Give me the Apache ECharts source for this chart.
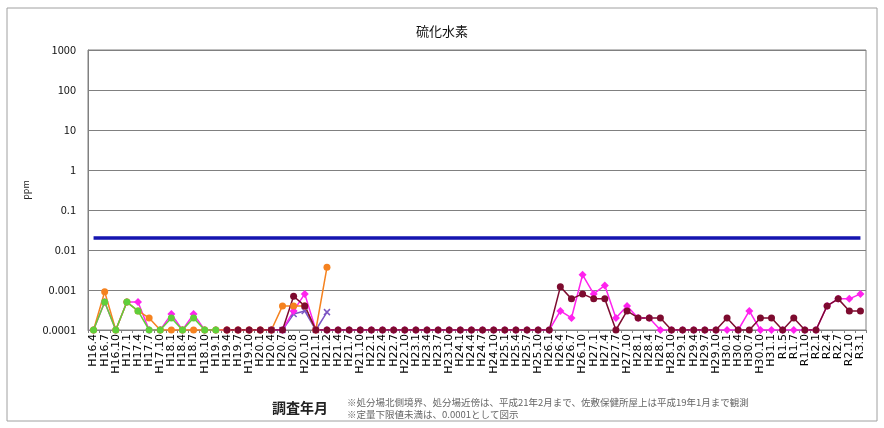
<!DOCTYPE html>
<html><head><meta charset="utf-8">
<script src="https://cdn.jsdelivr.net/npm/echarts@6/dist/echarts.min.js"></script>
<style>html,body{margin:0;padding:0;background:#fff}#c{width:884px;height:428px}</style>
</head><body><div id="c"></div>
<script>
const categories = ['H16.4','H16.7','H16.10','H17.1','H17.4','H17.7','H17.10','H18.1','H18.4','H18.7',
'H18.10','H19.1','H19.4','H19.7','H19.10','H20.1','H20.4','H20.7','H20.8','H20.10',
'H21.1','H21.2','H21.4','H21.7','H21.10','H22.1','H22.4','H22.7','H22.10','H23.1',
'H23.4','H23.7','H23.10','H24.1','H24.4','H24.7','H24.10','H25.1','H25.4','H25.7',
'H25.10','H26.1','H26.4','H26.7','H26.10','H27.1','H27.4','H27.7','H27.10','H28.1',
'H28.4','H28.7','H28.10','H29.1','H29.4','H29.7','H29.10','H30.1','H30.4','H30.7',
'H30.10','H31.1','R1.5','R1.7','R1.10','R2.1','R2.4','R2.7','R2.10','R3.1'];

const yTickLabels = ['0.0001','0.001','0.01','0.1','1','10','100','1000'];

const n = null;
// 佐敷保健所屋上 (green)
const saShiki = [0.0001,0.0005,0.0001,0.0005,0.0003,0.0001,0.0001,0.0002,0.0001,0.0002,0.0001,0.0001];
// 処分場北側境界 (orange)
const northBorder = [0.0001,0.0009,0.0001,0.0005,0.0003,0.0002,0.0001,0.0001,0.0001,0.0001,
0.0001,0.0001,0.0001,0.0001,0.0001,0.0001,0.0001,0.0004,0.0004,0.0004,0.0001,0.0037];
// 処分場近傍 (purple)
const nearSite = [n,n,n,n,n,n,n,n,n,n,
n,n,n,n,n,n,0.0001,0.0001,0.00025,0.0003,0.0001,0.00028];
// magenta station
const magentaSt = [0.0001,0.0005,0.0001,0.0005,0.0005,0.0001,0.0001,0.00025,0.0001,0.00025,
0.0001,0.0001,0.0001,0.0001,0.0001,0.0001,0.0001,0.0001,0.0003,0.0008,
0.0001,0.0001,0.0001,0.0001,0.0001,0.0001,0.0001,0.0001,0.0001,0.0001,
0.0001,0.0001,0.0001,0.0001,0.0001,0.0001,0.0001,0.0001,0.0001,0.0001,
0.0001,0.0001,0.0003,0.0002,0.0024,0.0008,0.0013,0.0002,0.0004,0.0002,
0.0002,0.0001,0.0001,0.0001,0.0001,0.0001,0.0001,0.0001,0.0001,0.0003,
0.0001,0.0001,0.0001,0.0001,0.0001,0.0001,0.0004,0.0006,0.0006,0.0008];
// dark red station
const darkRedSt = [n,n,n,n,n,n,n,n,n,n,
n,n,0.0001,0.0001,0.0001,0.0001,0.0001,0.0001,0.0007,0.0004,
0.0001,0.0001,0.0001,0.0001,0.0001,0.0001,0.0001,0.0001,0.0001,0.0001,
0.0001,0.0001,0.0001,0.0001,0.0001,0.0001,0.0001,0.0001,0.0001,0.0001,
0.0001,0.0001,0.0012,0.0006,0.0008,0.0006,0.0006,0.0001,0.0003,0.0002,
0.0002,0.0002,0.0001,0.0001,0.0001,0.0001,0.0001,0.0002,0.0001,0.0001,
0.0002,0.0002,0.0001,0.0002,0.0001,0.0001,0.0004,0.0006,0.0003,0.0003];
// 規制基準 line
const limitValue = 0.02;

const font = '"Noto Sans CJK JP","Noto Sans",sans-serif';
const chart = echarts.init(document.getElementById('c'));
function line(name, data, color, symbol, size, extra) {
  return Object.assign({
    name, type: 'line', data, symbol, symbolSize: size, showSymbol: true,
    connectNulls: false, animation: false,
    lineStyle: { color, width: 1.5 }, itemStyle: { color, borderWidth: 0 }
  }, extra || {});
}
chart.setOption({
  animation: false,
  grid: { left: 88, right: 18, top: 50, bottom: 98, show: true, borderColor: '#808080', borderWidth: 1 },
  title: { text: '硫化水素', left: 'center', top: 20, textStyle: { fontFamily: font, fontSize: 13, fontWeight: 'normal', color: '#111' } },
  xAxis: {
    type: 'category', data: categories, boundaryGap: true,
    axisLine: { lineStyle: { color: '#808080' } },
    axisTick: { show: true, length: 3, lineStyle: { color: '#808080' } },
    axisLabel: { interval: 0, rotate: 90, fontSize: 11, color: '#000', fontFamily: '"DejaVu Sans",sans-serif', margin: 4 }
  },
  yAxis: {
    type: 'log', logBase: 10, min: 0.0001, max: 1000,
    name: 'ppm', nameLocation: 'middle', nameGap: 58, nameRotate: 90,
    nameTextStyle: { fontSize: 9, color: '#222', fontFamily: font },
    axisLine: { show: true, lineStyle: { color: '#808080' } },
    axisTick: { show: false },
    splitLine: { lineStyle: { color: '#808080', width: 1 } },
    axisLabel: { fontSize: 11, color: '#111', fontFamily: font, margin: 12,
      formatter: v => yTickLabels[Math.round(Math.log10(v)) + 4] }
  },
  series: [
    line('基準', categories.map(() => limitValue), '#1515b0', 'none', 0, { lineStyle: { color: '#1515b0', width: 3.5 }, z: 1 }),
    line('処分場近傍', nearSite, '#7b55c4', 'path://M0,0L10,10M10,0L0,10', 6, { itemStyle: { color: 'none', borderColor: '#7b55c4', borderWidth: 1.5 } }),
    line('magenta', magentaSt, '#ff22ee', 'diamond', 8),
    line('処分場北側境界', northBorder, '#f5821f', 'circle', 7),
    line('佐敷保健所屋上', saShiki, '#5fcf3a', 'circle', 7),
    line('darkred', darkRedSt, '#7d0b2f', 'circle', 7)
  ],
  graphic: [
    { type: 'rect', shape: { x: 7, y: 8, width: 870, height: 413 }, style: { fill: 'none', stroke: '#a0a0a0', lineWidth: 1 }, silent: true, z: -10 },
    { type: 'text', left: 272, top: 401, style: { text: '調査年月', font: 'bold 14px ' + font, fill: '#222' } },
    { type: 'text', left: 347, top: 398, style: { text: '※処分場北側境界、処分場近傍は、平成21年2月まで、佐敷保健所屋上は平成19年1月まで観測', font: '9.5px ' + font, fill: '#666' } },
    { type: 'text', left: 347, top: 410, style: { text: '※定量下限値未満は、0.0001として図示', font: '9.5px ' + font, fill: '#666' } }
  ]
});
</script></body></html>
